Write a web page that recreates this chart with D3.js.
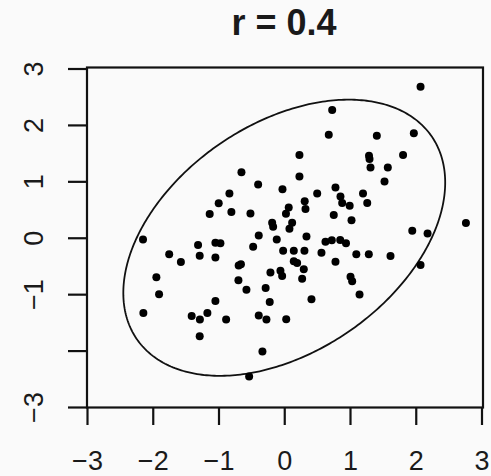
<!DOCTYPE html>
<html>
<head>
<meta charset="utf-8">
<script src="https://cdn.jsdelivr.net/npm/d3@7"></script>
<style>
  html, body { margin: 0; padding: 0; background: #fafafa; }
  svg { display: block; }
  text { font-family: "Liberation Sans", Arial, sans-serif; fill: #1a1a1a; }
</style>
</head>
<body>
<svg id="chart" width="491" height="476"></svg>
<script>
// Sample values (x, y pairs)
const xVals = [0.729, 0.677, 0.231, -0.651, 0.231, -0.397, -0.834, -0.027, 0.501, 0.779,
  0.311, 0.323, 0.855, 0.881, 0.995, -0.804, -0.514, 0.068, 0.026, 0.753,
  1.023, -0.184, -0.169, 0.120, 0.079, -0.388, 0.338, 2.073, 1.408, 1.971,
  1.289, 1.297, 1.807, 1.312, 1.575, 1.525, 1.198, 1.262, 2.763, 1.947,
  2.180, -0.997, -1.134, -0.114, -2.148, -1.750, -1.572, -1.311, -1.286, -1.047,
  -0.971, -1.047, -0.693, -0.659, -0.697, -0.575, -0.473, -0.017, -0.210, -0.058,
  -0.032, -0.283, -0.221, -1.945, -1.904, -2.143, -1.047, -1.408, -1.283, -1.169,
  -0.884, -1.286, -0.388, -0.271, 0.030, -0.332, -0.534, 0.145, 0.307, 0.627,
  0.723, 0.851, 0.939, 0.566, 0.779, 0.145, 0.196, 0.297, 0.272, 0.414,
  1.008, 1.033, 1.096, 1.286, 1.616, 2.073, 1.145];
const yVals = [2.265, 1.826, 1.465, 1.160, 1.085, 0.943, 0.783, 0.861, 0.783, 0.890,
  0.648, 0.508, 0.730, 0.618, 0.565, 0.455, 0.428, 0.535, 0.426, 0.405,
  0.311, 0.266, 0.197, 0.266, 0.160, 0.041, 0.023, 2.678, 1.808, 1.853,
  1.453, 1.394, 1.465, 1.245, 1.245, 0.996, 0.783, 0.618, 0.263, 0.126,
  0.076, 0.613, 0.423, -0.030, -0.030, -0.293, -0.430, -0.128, -0.320, -0.089,
  -0.098, -0.350, -0.492, -0.469, -0.755, -0.922, -0.158, -0.229, -0.616, -0.586,
  -0.679, -0.892, -1.140, -0.702, -1.002, -1.336, -1.119, -1.385, -1.451, -1.336,
  -1.448, -1.744, -1.380, -1.448, -1.446, -2.016, -2.460, -0.231, -0.231, -0.069,
  -0.044, -0.039, -0.098, -0.265, -0.425, -0.417, -0.448, -0.560, -0.728, -1.091,
  -0.691, -0.773, -0.291, -0.291, -0.323, -0.483, -1.004];

// Correlation and 95% contour radius, sqrt(qchisq(0.95, 2))
const rho = 0.4;
const contourRadius = 2.4477;

const xTicks = [-3, -2, -1, 0, 1, 2, 3];
const xTickLabels = ["\u22123", "\u22122", "\u22121", "0", "1", "2", "3"];
const yTicks = [-3, -2, -1, 0, 1, 2, 3];
const yTickLabels = ["\u22123", "", "\u22121", "0", "1", "2", "3"];
const title = "r = 0.4";

const svg = d3.select("#chart");
const x = d3.scaleLinear().domain([-3, 3]).range([87, 481.5]);
const y = d3.scaleLinear().domain([-3, 3]).range([407, 68.5]);

// Title
svg.append("text")
  .attr("x", 284).attr("y", 35)
  .attr("text-anchor", "middle")
  .style("font-size", "36px").style("font-weight", "bold")
  .text(title);

// Ellipse for a bivariate normal with correlation rho
const d = Math.acos(rho);
const angles = d3.range(0, 361).map(k => k * Math.PI / 180);
const ellipsePts = angles.map(a => [contourRadius * Math.cos(a + d / 2), contourRadius * Math.cos(a - d / 2)]);
svg.append("path")
  .datum(ellipsePts)
  .attr("fill", "none").attr("stroke", "#111").attr("stroke-width", 1.8)
  .attr("d", d3.line().x(p => x(p[0])).y(p => y(p[1])).curve(d3.curveLinearClosed));

// Points
svg.append("g").selectAll("circle")
  .data(xVals.map((v, i) => [v, yVals[i]]))
  .join("circle")
  .attr("cx", p => x(p[0])).attr("cy", p => y(p[1]))
  .attr("r", 4).attr("fill", "#000");

// Plot frame
svg.append("rect")
  .attr("x", 87).attr("y", 67.5).attr("width", 396).attr("height", 340)
  .attr("fill", "none").attr("stroke", "#111").attr("stroke-width", 2.2);

// X axis
const xAxis = svg.append("g")
  .attr("transform", "translate(0,408)")
  .call(d3.axisBottom(x).tickValues(xTicks).tickSize(17).tickPadding(26)
    .tickFormat((v, i) => xTickLabels[i]));
xAxis.select(".domain").remove();
xAxis.selectAll(".tick line").attr("stroke", "#111").attr("stroke-width", 2.2);
xAxis.selectAll(".tick text").style("font-size", "27px").attr("fill", "#1a1a1a")
  .style("font-family", "'Liberation Sans', Arial, sans-serif");

// Y axis with labels reading upward
const yAxis = svg.append("g")
  .attr("transform", "translate(87,0)")
  .call(d3.axisLeft(y).tickValues(yTicks).tickSize(19)
    .tickFormat((v, i) => yTickLabels[i]));
yAxis.select(".domain").remove();
yAxis.selectAll(".tick line").attr("stroke", "#111").attr("stroke-width", 2.2);
yAxis.selectAll(".tick text")
  .attr("transform", "rotate(-90)")
  .attr("x", 0).attr("y", -44).attr("dy", 0)
  .attr("text-anchor", "middle")
  .attr("fill", "#1a1a1a")
  .style("font-size", "27px")
  .style("font-family", "'Liberation Sans', Arial, sans-serif");
</script>
</body>
</html>
